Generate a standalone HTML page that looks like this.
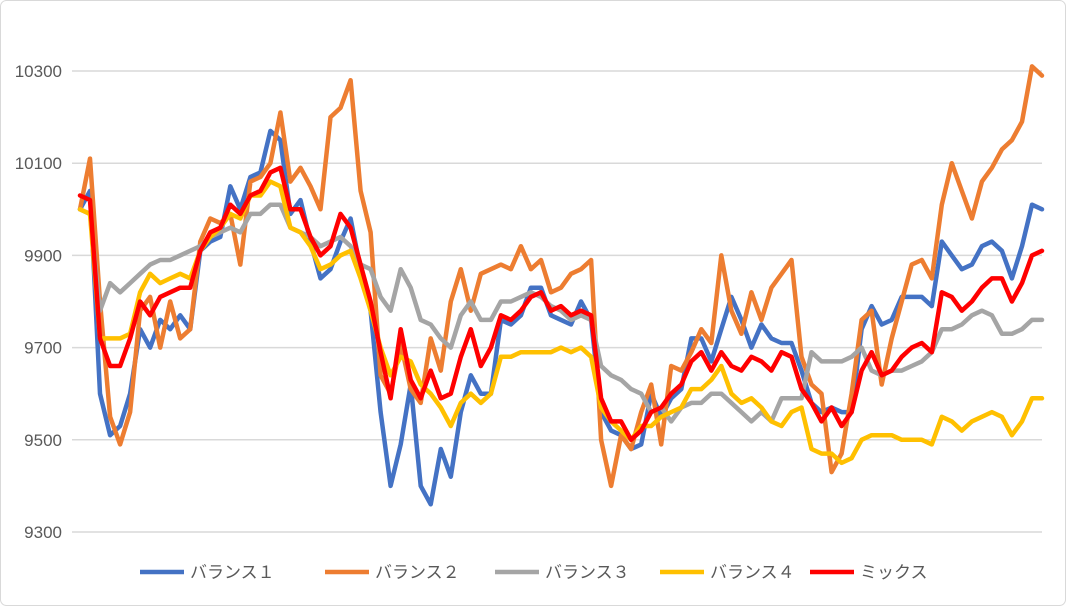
<!DOCTYPE html>
<html><head><meta charset="utf-8"><style>
body{margin:0;background:#fff;}
svg{display:block;font-family:"Liberation Sans","Noto Sans CJK JP",sans-serif;}
</style></head><body>
<svg id="chart" width="1066" height="606" viewBox="0 0 1066 606">
<rect x="0.5" y="0.5" width="1065" height="605" rx="6" fill="#fff" stroke="#d9d9d9"/>
<g id="grid"></g><g id="ylabels"></g><g id="series"></g><g id="legend"></g>
</svg>
<script>
const yTicks=[9300,9500,9700,9900,10100,10300];
const seriesNames=["バランス１","バランス２","バランス３","バランス４","ミックス"];
const seriesColors=["#4472c4","#ed7d31","#a5a5a5","#ffc000","#ff0000"];
const balance1=[10000,10040,9600,9510,9530,9600,9740,9700,9760,9740,9770,9740,9910,9930,9940,10050,10000,10070,10080,10170,10150,9990,10020,9930,9850,9870,9930,9980,9870,9780,9560,9400,9490,9620,9400,9360,9480,9420,9560,9640,9600,9600,9760,9750,9770,9830,9830,9770,9760,9750,9800,9760,9560,9520,9510,9480,9490,9600,9550,9590,9610,9720,9720,9670,9740,9810,9760,9700,9750,9720,9710,9710,9650,9580,9560,9570,9560,9560,9740,9790,9750,9760,9810,9810,9810,9790,9930,9900,9870,9880,9920,9930,9910,9850,9920,10010,10000];
const balance2=[10000,10110,9800,9550,9490,9560,9780,9810,9700,9800,9720,9740,9930,9980,9970,9990,9880,10060,10070,10100,10210,10060,10090,10050,10000,10200,10220,10280,10040,9950,9640,9600,9710,9610,9580,9720,9650,9800,9870,9780,9860,9870,9880,9870,9920,9870,9890,9820,9830,9860,9870,9890,9500,9400,9510,9480,9560,9620,9490,9660,9650,9690,9740,9710,9900,9780,9730,9820,9760,9830,9860,9890,9680,9620,9600,9430,9470,9600,9760,9780,9620,9720,9800,9880,9890,9850,10010,10100,10040,9980,10060,10090,10130,10150,10190,10310,10290];
const balance3=[10000,9990,9780,9840,9820,9840,9860,9880,9890,9890,9900,9910,9920,9940,9950,9960,9950,9990,9990,10010,10010,9960,9950,9940,9920,9930,9940,9920,9880,9870,9810,9780,9870,9830,9760,9750,9720,9700,9770,9800,9760,9760,9800,9800,9810,9820,9810,9790,9780,9760,9770,9760,9660,9640,9630,9610,9600,9560,9570,9540,9570,9580,9580,9600,9600,9580,9560,9540,9560,9540,9590,9590,9590,9690,9670,9670,9670,9680,9700,9650,9640,9650,9650,9660,9670,9690,9740,9740,9750,9770,9780,9770,9730,9730,9740,9760,9760];
const balance4=[10000,9990,9720,9720,9720,9730,9820,9860,9840,9850,9860,9850,9910,9940,9960,9990,9980,10030,10030,10060,10050,9960,9950,9920,9870,9880,9900,9910,9850,9780,9700,9640,9680,9670,9620,9600,9570,9530,9580,9600,9580,9600,9680,9680,9690,9690,9690,9690,9700,9690,9700,9680,9570,9540,9520,9500,9530,9530,9550,9560,9570,9610,9610,9630,9660,9600,9580,9590,9570,9540,9530,9560,9570,9480,9470,9470,9450,9460,9500,9510,9510,9510,9500,9500,9500,9490,9550,9540,9520,9540,9550,9560,9550,9510,9540,9590,9590];
const mix=[10030,10020,9720,9660,9660,9720,9800,9770,9810,9820,9830,9830,9910,9950,9960,10010,9990,10030,10040,10080,10090,10000,10000,9940,9900,9920,9990,9960,9880,9800,9690,9590,9740,9630,9590,9650,9590,9600,9680,9740,9660,9700,9770,9760,9780,9810,9820,9780,9790,9770,9780,9770,9590,9540,9540,9500,9520,9560,9570,9600,9620,9670,9690,9650,9690,9660,9650,9680,9670,9650,9690,9680,9610,9580,9540,9570,9530,9560,9650,9690,9640,9650,9680,9700,9710,9690,9820,9810,9780,9800,9830,9850,9850,9800,9840,9900,9910];
const allSeries=[balance1,balance2,balance3,balance4,mix];
const NS="http://www.w3.org/2000/svg";
const x0=80,x1=1042,yMin=9300,yMax=10300,py0=532,py1=71;
function yScale(v){return py0-(v-yMin)/(yMax-yMin)*(py0-py1);}
function xScale(i,n){return x0+i*(x1-x0)/(n-1);}
function mk(t,a){const e=document.createElementNS(NS,t);for(const k in a)e.setAttribute(k,a[k]);return e;}
const grid=document.getElementById('grid'),yl=document.getElementById('ylabels');
yTicks.forEach(t=>{
 const l=mk('line',{x1:x0-8,x2:x1,y1:yScale(t),y2:yScale(t),stroke:'#d9d9d9','stroke-width':1.5});
 
 
 grid.appendChild(l);
 const tx=mk('text',{x:62,y:yScale(t)+6,'text-anchor':'end','font-size':17,fill:'#595959'});
 tx.textContent=t;
 
 
 yl.appendChild(tx);
});
const sg=document.getElementById('series');
allSeries.forEach((s,k)=>{
 const d=s.map((v,i)=>(i?'L':'M')+xScale(i,s.length).toFixed(1)+' '+yScale(v).toFixed(1)).join(' ');
 const p=mk('path',{d:d,fill:'none',stroke:seriesColors[k],'stroke-width':4.5,'stroke-linejoin':'round','stroke-linecap':'round'});
 
 
 sg.appendChild(p);
});
const lg=document.getElementById('legend');
const legX=[140,325,495,660,810];
seriesNames.forEach((n,k)=>{
 const g=mk('g',{});
 
 
 g.appendChild(mk('line',{x1:legX[k],x2:legX[k]+44,y1:572,y2:572,stroke:seriesColors[k],'stroke-width':4.5}));
 const t=mk('text',{x:legX[k]+50,y:578,'font-size':17,fill:'#595959'});
 t.textContent=n;
 g.appendChild(t);
 lg.appendChild(g);
});
</script>
</body></html>
